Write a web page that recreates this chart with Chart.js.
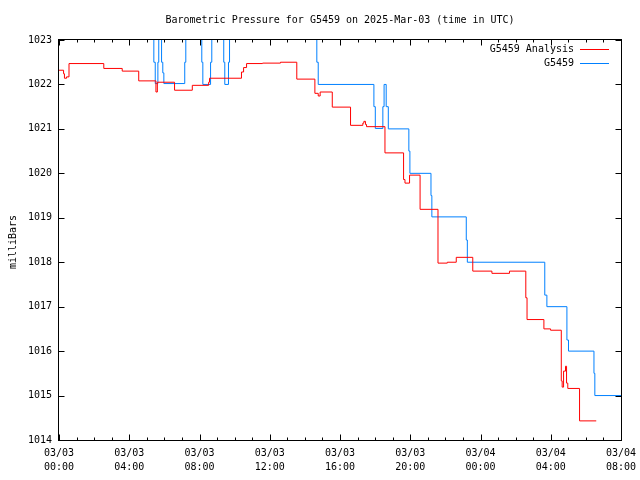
<!DOCTYPE html>
<html>
<head>
<meta charset="utf-8">
<script src="https://cdn.jsdelivr.net/npm/chart.js@4/dist/chart.umd.min.js"></script>
<style>
html, body { margin: 0; padding: 0; background: #fff; }
canvas { display: block; }
</style>
</head>
<body>
<canvas id="chart" width="640" height="480"></canvas>
<script>
// --- Data (hours since 2025-03-03 00:00 UTC, pressure in mb) ---
const titleText = 'Barometric Pressure for G5459 on 2025-Mar-03 (time in UTC)';
const yAxisLabel = 'milliBars';
const seriesNames = ['G5459 Analysis', 'G5459'];

const analysisHours = [0, 0.26, 0.31, 0.43, 0.57, 2.55, 3.60, 4.54, 5.52, 5.60, 6.58, 7.59, 8.52, 8.57,
  10.39, 10.51, 10.68, 11.59, 12.61, 13.54, 14.57, 14.76, 14.87, 15.56, 16.60, 17.30, 17.36, 17.45, 17.51,
  18.56, 19.62, 19.70, 19.96, 20.56, 21.58, 22.11, 22.62, 23.56, 24.65, 25.65, 26.58, 26.65, 27.61, 27.99,
  28.60, 28.65, 28.73, 28.84, 28.90, 28.97, 29.64, 30.59];
const analysisValues = [1022.32, 1022.24, 1022.14, 1022.17, 1022.47, 1022.36, 1022.30, 1022.08, 1021.83, 1022.05,
  1021.87, 1021.98, 1022.05, 1022.14, 1022.28, 1022.38, 1022.47, 1022.48, 1022.50, 1022.12, 1021.80, 1021.74,
  1021.83, 1021.49, 1021.08, 1021.13, 1021.17, 1021.10, 1021.05, 1020.46, 1019.86, 1019.78, 1019.96, 1019.19,
  1017.98, 1018.00, 1018.11, 1017.80, 1017.75, 1017.80, 1017.20, 1016.71, 1016.50, 1016.47, 1015.33, 1015.19,
  1015.55, 1015.66, 1015.28, 1015.16, 1014.43, 1014.43];

const obsHours = [5.35, 5.40, 5.48, 5.63, 5.68, 5.84, 5.91, 5.97, 7.16, 7.22, 8.13, 8.19, 8.63, 8.70,
  9.38, 9.44, 9.65, 9.71, 14.68, 14.76, 17.93, 18.01, 18.44, 18.51, 18.63, 18.75, 19.92, 19.98,
  21.18, 21.23, 23.19, 23.25, 27.66, 27.78, 28.92, 29.01, 30.46, 30.51, 32];
const obsValues = [1024, 1022.5, 1022.02, 1022.5, 1024, 1022.5, 1022.26, 1022.02, 1022.5, 1024, 1022.5, 1022.0,
  1022.5, 1024, 1022.5, 1022.0, 1022.5, 1024, 1022.5, 1022.0, 1021.5, 1021.01, 1021.5, 1022.0, 1021.5, 1021.0,
  1020.5, 1020.0, 1019.5, 1019.02, 1018.5, 1018.0, 1017.26, 1017.0, 1016.25, 1016.0, 1015.5, 1015.0, 1015.0];

const xTickDates = ['03/03', '03/03', '03/03', '03/03', '03/03', '03/03', '03/04', '03/04', '03/04'];
const xTickTimes = ['00:00', '04:00', '08:00', '12:00', '16:00', '20:00', '00:00', '04:00', '08:00'];

const FONT = '"DejaVu Sans Mono", "Liberation Mono", monospace';
const colors = ['#ff0000', '#0080ff'];

function toPoints(xs, ys){ return xs.map((x, i) => ({x, y: ys[i]})); }

// frame, inward ticks, title, axis label and legend (gnuplot look)
const decorations = {
  id: 'decorations',
  afterDraw(chart){
    const {ctx, chartArea: a, scales: {x, y}} = chart;
    ctx.save();
    ctx.strokeStyle = '#000';
    ctx.lineWidth = 1;
    const L = Math.round(a.left) - 0.5, R = Math.round(a.right) + 0.5;
    const T = Math.round(a.top) - 0.5, B = Math.round(a.bottom) + 0.5;
    ctx.strokeRect(L, T, R - L, B - T);
    ctx.beginPath();
    for (let h = x.min; h <= x.max; h++){
      const px = Math.round(x.getPixelForValue(h)) + 0.5;
      const len = h % 4 === 0 ? 6 : 3;
      ctx.moveTo(px, B); ctx.lineTo(px, B - len);
      ctx.moveTo(px, T); ctx.lineTo(px, T + len);
    }
    y.ticks.forEach(t => {
      const py = Math.round(y.getPixelForValue(t.value)) + 0.5;
      ctx.moveTo(L, py); ctx.lineTo(L + 6, py);
      ctx.moveTo(R, py); ctx.lineTo(R - 6, py);
    });
    ctx.stroke();

    ctx.fillStyle = '#000';
    ctx.font = '10px ' + FONT;
    ctx.textBaseline = 'middle';
    ctx.textAlign = 'center';
    ctx.fillText(titleText, 340, 20);

    ctx.save();
    ctx.translate(13, 242);
    ctx.rotate(-Math.PI / 2);
    ctx.fillText(yAxisLabel, 0, 0);
    ctx.restore();

    ctx.textAlign = 'right';
    seriesNames.forEach((name, i) => {
      const ly = 49 + i * 14;
      ctx.fillStyle = '#000';
      ctx.fillText(name, 574, ly);
      ctx.strokeStyle = colors[i];
      ctx.beginPath();
      ctx.moveTo(580, ly + 0.5); ctx.lineTo(609, ly + 0.5);
      ctx.stroke();
    });
    ctx.restore();
  }
};

new Chart(document.getElementById('chart'), {
  type: 'line',
  data: {
    datasets: [
      { label: seriesNames[0], data: toPoints(analysisHours, analysisValues), borderColor: colors[0],
        borderWidth: 1, pointRadius: 0, stepped: true, fill: false },
      { label: seriesNames[1], data: toPoints(obsHours, obsValues), borderColor: colors[1],
        borderWidth: 1, pointRadius: 0, stepped: true, fill: false }
    ]
  },
  options: {
    responsive: false,
    animation: false,
    events: [],
    layout: { padding: { left: 0, right: 19, top: 40, bottom: 0 } },
    plugins: { legend: { display: false }, title: { display: false }, tooltip: { enabled: false } },
    scales: {
      x: {
        type: 'linear', min: 0, max: 32,
        grid: { display: false, drawTicks: false },
        border: { display: false },
        ticks: {
          stepSize: 4, autoSkip: false, maxRotation: 0, padding: 6, color: '#000',
          font: { family: FONT, size: 10, lineHeight: 1.4 },
          callback: (v, i) => [xTickDates[i], xTickTimes[i]]
        },
        afterFit: s => { s.height = 40; s.paddingLeft = 0; s.paddingRight = 0; }
      },
      y: {
        min: 1014, max: 1023,
        grid: { display: false, drawTicks: false },
        border: { display: false },
        ticks: { stepSize: 1, padding: 7, color: '#000', font: { family: FONT, size: 10 },
          callback: v => String(v) },
        afterFit: s => { s.width = 59; s.paddingTop = 0; s.paddingBottom = 0; }
      }
    }
  },
  plugins: [decorations]
});
</script>
</body>
</html>
